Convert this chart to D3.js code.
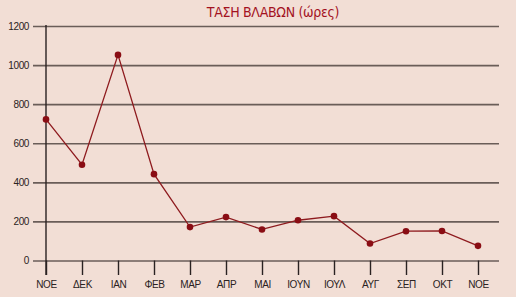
<!DOCTYPE html>
<html>
<head>
<meta charset="utf-8">
<script src="https://cdn.jsdelivr.net/npm/d3@7"></script>
<style>
  body { margin: 0; background: #f2ded5; }
  svg { display: block; font-family: "DejaVu Sans Condensed", "DejaVu Sans", sans-serif; font-stretch: condensed; }
</style>
</head>
<body>
<div id="chart"></div>
<script>
// data
const months = ["ΝΟΕ", "ΔΕΚ", "ΙΑΝ", "ΦΕΒ", "ΜΑΡ", "ΑΠΡ", "ΜΑΙ", "ΙΟΥΝ", "ΙΟΥΛ", "ΑΥΓ", "ΣΕΠ", "ΟΚΤ", "ΝΟΕ"];
const hours = [722, 490, 1052, 442, 171, 222, 159, 206, 227, 87, 150, 151, 75];
const yTicks = [0, 200, 400, 600, 800, 1000, 1200];
const title = "ΤΑΣΗ ΒΛΑΒΩΝ (ώρες)";

const W = 516, H = 297;
const margin = {top: 26, right: 17, bottom: 36.5, left: 46};
const width = W - margin.left - margin.right,
      height = H - margin.top - margin.bottom;

const svg = d3.select("#chart").append("svg")
  .attr("width", W)
  .attr("height", H);

svg.append("rect").attr("width", W).attr("height", H).attr("fill", "#f2ded5");

svg.append("text")
  .attr("x", 273).attr("y", 17)
  .attr("text-anchor", "middle")
  .attr("fill", "#a3121f")
  .style("font-size", "14px")
  .style("letter-spacing", "-0.3px")
  .text(title);

const x = d3.scalePoint().domain(d3.range(months.length)).range([0, 432]);
const y = d3.scaleLinear().domain([0, 1200]).range([height, 0]);

const g = svg.append("g").attr("transform", `translate(${margin.left},${margin.top})`);

// horizontal grid with left ticks
const yAxis = g.append("g")
  .call(d3.axisLeft(y).tickValues(yTicks).tickFormat(d3.format("d")).tickSize(-(width + 13)).tickPadding(4).tickSizeOuter(0))
  .call(s => s.select(".domain").remove());
yAxis.selectAll(".tick line")
  .attr("x1", -13)
  .attr("x2", width)
  .attr("stroke", "#6a5d58")
  .attr("stroke-width", 1.6);
yAxis.selectAll(".tick text")
  .attr("x", -17)
  .attr("fill", "#2a2222")
  .style("font-size", "10px")
  .style("letter-spacing", "-0.4px");

// vertical axis line
g.append("line")
  .attr("x1", 0).attr("x2", 0)
  .attr("y1", -1).attr("y2", height + 14.5)
  .attr("stroke", "#2a2222").attr("stroke-width", 1.4);

// bottom axis ticks
const xAxis = g.append("g")
  .attr("transform", `translate(0,${height})`)
  .call(d3.axisBottom(x).tickFormat(i => months[i]).tickSize(14.5).tickPadding(6).tickSizeOuter(0))
  .call(s => s.select(".domain").remove());
xAxis.selectAll(".tick line").attr("stroke", "#2a2222").attr("stroke-width", 1.4);
xAxis.selectAll(".tick text").attr("fill", "#2a2222").style("font-size", "10px").style("letter-spacing", "-0.4px");

// series
const line = d3.line().x((d, i) => x(i)).y(d => y(d));
g.append("path")
  .datum(hours)
  .attr("d", line)
  .attr("fill", "none")
  .attr("stroke", "#8e1a1e")
  .attr("stroke-width", 1.3);

g.selectAll(".dot")
  .data(hours)
  .enter().append("circle")
  .attr("class", "dot")
  .attr("cx", (d, i) => x(i))
  .attr("cy", d => y(d))
  .attr("r", 3.3)
  .attr("fill", "#8a0d14");
</script>
</body>
</html>
